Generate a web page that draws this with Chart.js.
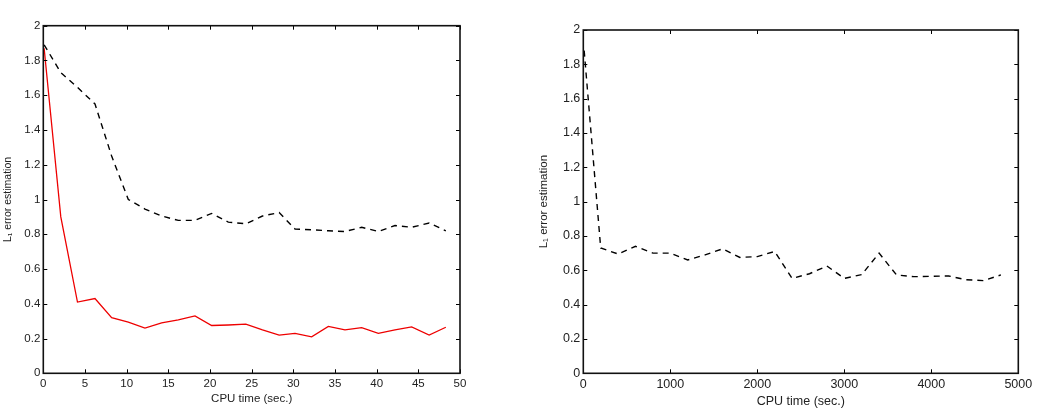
<!DOCTYPE html>
<html>
<head>
<meta charset="utf-8">
<script src="https://cdn.jsdelivr.net/npm/chart.js@4"></script>
<style>
  html, body { margin: 0; padding: 0; background: #ffffff; }
  body { width: 1038px; height: 418px; position: relative; overflow: hidden; }
  canvas { position: absolute; top: 0; }
  #leftChart { left: 0; }
  #rightChart { left: 519px; }
</style>
</head>
<body>
<canvas id="leftChart" width="519" height="418"></canvas>
<canvas id="rightChart" width="519" height="418"></canvas>
<script>
// ---- data ----
const leftTime = [0.1, 2.1, 4.1, 6.2, 8.2, 10.2, 12.2, 14.2, 16.2, 18.2, 20.2, 22.2, 24.3, 26.3, 28.3, 30.2, 32.2, 34.2, 36.2, 38.2, 40.2, 42.2, 44.2, 46.3, 48.3];
const leftRed = [1.87, 0.90, 0.41, 0.43, 0.32, 0.295, 0.26, 0.29, 0.307, 0.33, 0.275, 0.278, 0.283, 0.25, 0.22, 0.23, 0.21, 0.27, 0.25, 0.263, 0.23, 0.25, 0.267, 0.22, 0.265];
const leftBlack = [1.89, 1.73, 1.645, 1.55, 1.25, 1.0, 0.945, 0.905, 0.88, 0.88, 0.92, 0.87, 0.86, 0.905, 0.925, 0.83, 0.826, 0.82, 0.816, 0.84, 0.816, 0.85, 0.84, 0.865, 0.82];

const rightTime = [10, 200, 400, 600, 800, 1000, 1200, 1400, 1600, 1800, 2000, 2200, 2400, 2600, 2800, 3000, 3200, 3400, 3600, 3800, 4000, 4200, 4400, 4600, 4800];
const rightBlack = [1.88, 0.73, 0.695, 0.74, 0.70, 0.70, 0.66, 0.69, 0.725, 0.675, 0.68, 0.71, 0.553, 0.58, 0.625, 0.553, 0.575, 0.70, 0.573, 0.563, 0.565, 0.567, 0.545, 0.54, 0.573];

const yTitle = 'L\u2081 error estimation';
const xTitle = 'CPU time (sec.)';

// ---- helpers ----
const framePlugin = {
  id: 'frame',
  afterDraw(chart) {
    const ctx = chart.ctx;
    const { left, right, top, bottom } = chart.chartArea;
    const xs = chart.scales.x, ys = chart.scales.y;
    const len = 4;
    ctx.save();
    ctx.strokeStyle = '#000';
    ctx.lineWidth = 1;
    ctx.beginPath();
    xs.ticks.forEach(t => {
      const px = Math.round(xs.getPixelForValue(t.value)) + 0.5;
      ctx.moveTo(px, bottom); ctx.lineTo(px, bottom - len);
      ctx.moveTo(px, top); ctx.lineTo(px, top + len);
    });
    ys.ticks.forEach(t => {
      const py = Math.round(ys.getPixelForValue(t.value)) + 0.5;
      ctx.moveTo(left, py); ctx.lineTo(left + len, py);
      ctx.moveTo(right, py); ctx.lineTo(right - len, py);
    });
    ctx.stroke();
    ctx.lineWidth = 1.6;
    ctx.strokeStyle = '#111';
    ctx.strokeRect(left, top, right - left, bottom - top);
    ctx.restore();
  }
};

function makeChart(id, cfg) {
  const fam = 'Liberation Sans, Arial, Helvetica, sans-serif';
  return new Chart(document.getElementById(id), {
    type: 'line',
    data: { datasets: cfg.datasets },
    options: {
      responsive: false,
      devicePixelRatio: 1,
      animation: false,
      events: [],
      layout: { padding: cfg.padding },
      plugins: { legend: { display: false }, tooltip: { enabled: false } },
      elements: { point: { radius: 0 }, line: { tension: 0 } },
      scales: {
        x: {
          type: 'linear', min: cfg.xMin, max: cfg.xMax,
          afterFit(s) { s.height = cfg.xAxisHeight; },
          grid: { display: false, drawTicks: false },
          border: { display: false },
          ticks: {
            stepSize: cfg.xStep, padding: cfg.xTickPad, color: '#222',
            font: { family: fam, size: cfg.fontSize },
            maxRotation: 0, autoSkip: false,
            callback: v => String(v)
          },
          title: {
            display: true, text: xTitle, color: '#222',
            font: { family: fam, size: cfg.fontSize },
            padding: { top: 0, bottom: cfg.xTitlePad }
          }
        },
        y: {
          type: 'linear', min: 0, max: 2,
          afterFit(s) { s.width = cfg.yAxisWidth; },
          grid: { display: false, drawTicks: false },
          border: { display: false },
          ticks: {
            stepSize: 0.2, padding: 3, color: '#222',
            font: { family: fam, size: cfg.fontSize },
            autoSkip: false,
            callback: v => String(Number(v.toFixed(1)))
          },
          title: {
            display: true, text: yTitle, color: '#222',
            font: { family: fam, size: cfg.fontSize - 1 },
            padding: { top: cfg.yTitlePad, bottom: 0 }
          }
        }
      }
    },
    plugins: [framePlugin]
  });
}

const toXY = (xs, ys) => xs.map((x, i) => ({ x: x, y: ys[i] }));

makeChart('leftChart', {
  padding: { left: 0, top: 25.7, right: 59, bottom: 0 },
  yAxisWidth: 43.3, xAxisHeight: 44.7,
  xMin: 0, xMax: 50, xStep: 5, fontSize: 11.5,
  xTickPad: 4, xTitlePad: 12, yTitlePad: 2,
  datasets: [
    { data: toXY(leftTime, leftBlack), borderColor: '#000', borderWidth: 1.4, borderDash: [6, 5] },
    { data: toXY(leftTime, leftRed), borderColor: '#ee0000', borderWidth: 1.3 }
  ]
});

makeChart('rightChart', {
  padding: { left: 0, top: 30, right: 19.7, bottom: 0 },
  yAxisWidth: 64.3, xAxisHeight: 44.7,
  xMin: 0, xMax: 5000, xStep: 1000, fontSize: 12.5,
  xTickPad: 4, xTitlePad: 8.5, yTitlePad: 17.5,
  datasets: [
    { data: toXY(rightTime, rightBlack), borderColor: '#000', borderWidth: 1.4, borderDash: [6, 5] }
  ]
});
</script>
</body>
</html>
